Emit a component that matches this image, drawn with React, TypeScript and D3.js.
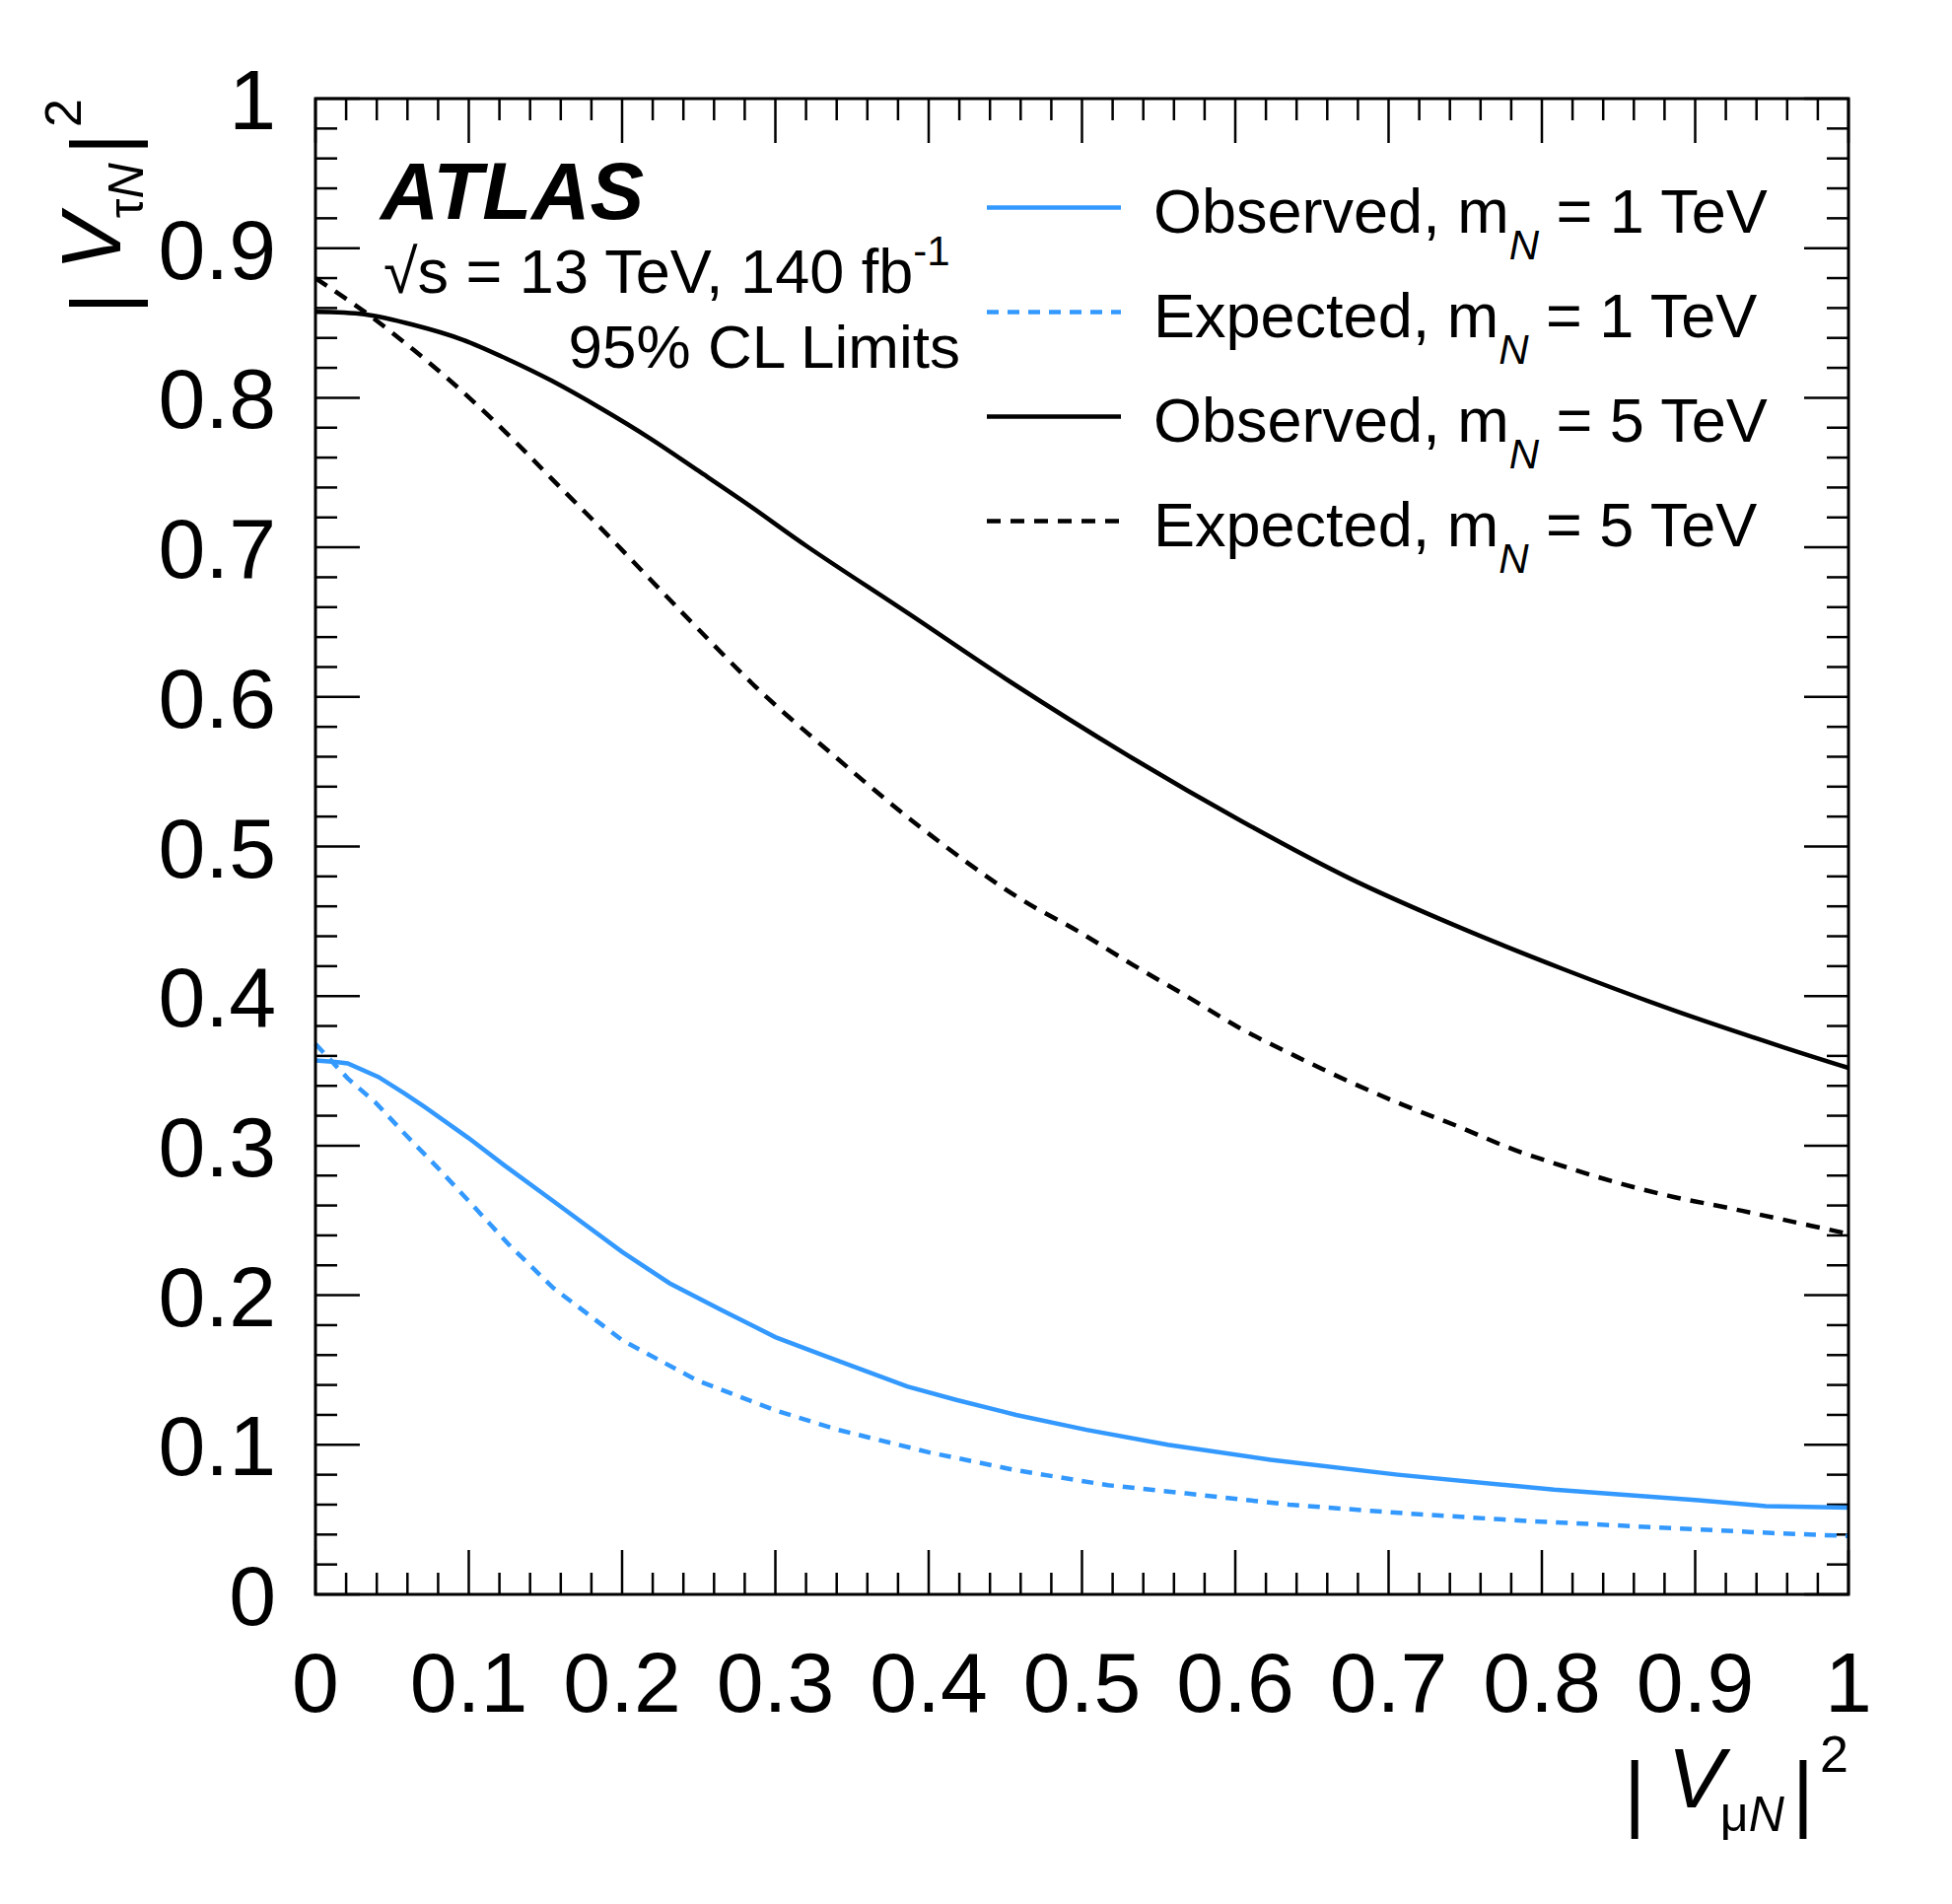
import * as d3 from "d3";
import { useEffect } from "react";

// |V_muN|^2 grid points and |V_tauN|^2 limits
const obs1X = [0, 0.013, 0.021, 0.041, 0.058, 0.071, 0.1, 0.123, 0.155, 0.2, 0.231, 0.265, 0.3, 0.331, 0.357, 0.386, 0.418, 0.457, 0.503, 0.556, 0.623, 0.706, 0.808, 0.902, 0.946, 1.0];
const obs1Y = [0.357, 0.356, 0.355, 0.346, 0.335, 0.326, 0.305, 0.287, 0.263, 0.229, 0.208, 0.19, 0.172, 0.16, 0.15, 0.139, 0.13, 0.12, 0.11, 0.1, 0.09, 0.08, 0.07, 0.063, 0.059, 0.058];

const exp1X = [0, 0.021, 0.039, 0.06, 0.079, 0.1, 0.126, 0.155, 0.2, 0.249, 0.3, 0.341, 0.4, 0.457, 0.517, 0.568, 0.635, 0.713, 0.792, 0.871, 0.95, 1.0];
const exp1Y = [0.368, 0.345, 0.329, 0.306, 0.286, 0.263, 0.234, 0.205, 0.17, 0.143, 0.123, 0.11, 0.095, 0.083, 0.073, 0.0675, 0.06, 0.054, 0.049, 0.045, 0.041, 0.039];

const obs5X = [0, 0.032, 0.064, 0.096, 0.128, 0.154, 0.186, 0.218, 0.25, 0.283, 0.321, 0.387, 0.454, 0.533, 0.604, 0.674, 0.745, 0.815, 0.886, 0.957, 1.0];
const obs5Y = [0.8575, 0.8558, 0.8487, 0.8388, 0.8245, 0.8114, 0.793, 0.773, 0.751, 0.728, 0.7004, 0.6556, 0.6096, 0.559, 0.517, 0.479, 0.4465, 0.4176, 0.3905, 0.366, 0.352];

const exp5X = [0, 0.032, 0.064, 0.096, 0.128, 0.154, 0.186, 0.218, 0.25, 0.291, 0.339, 0.387, 0.435, 0.463, 0.498, 0.533, 0.569, 0.604, 0.639, 0.674, 0.71, 0.745, 0.78, 0.816, 0.851, 0.886, 0.921, 0.957, 1.0];
const exp5Y = [0.88, 0.8575, 0.832, 0.804, 0.773, 0.746, 0.713, 0.679, 0.645, 0.603, 0.56, 0.519, 0.482, 0.463, 0.443, 0.421, 0.3995, 0.378, 0.36, 0.343, 0.327, 0.313, 0.298, 0.2856, 0.2747, 0.2657, 0.2585, 0.2506, 0.241];

const xTicks = [0, 0.1, 0.2, 0.3, 0.4, 0.5, 0.6, 0.7, 0.8, 0.9, 1];
const xTickLabels = ["0", "0.1", "0.2", "0.3", "0.4", "0.5", "0.6", "0.7", "0.8", "0.9", "1"];
const yTicks = [0, 0.1, 0.2, 0.3, 0.4, 0.5, 0.6, 0.7, 0.8, 0.9, 1];
const yTickLabels = ["0", "0.1", "0.2", "0.3", "0.4", "0.5", "0.6", "0.7", "0.8", "0.9", "1"];

const legendNames = ["Observed", "Expected", "Observed", "Expected"];
const legendMasses = ["1", "1", "5", "5"];

const BLUE = "#3399ff";
const FONT = "'Liberation Sans', Arial, Helvetica, sans-serif";

const W = 1980;
const H = 1931;
const left = 320, right = 1875, top = 100, bottom = 1617;

const App = () => {
    useEffect(() => {
        document.body.style.margin = "0";
    }, []);

    const x = d3.scaleLinear().domain([0, 1]).range([left, right]);
    const y = d3.scaleLinear().domain([0, 1]).range([bottom, top]);

    const line = (xs: number[], ys: number[], curve: d3.CurveFactory) =>
        d3.line<number>()
            .x((_, i) => x(xs[i]))
            .y((_, i) => y(ys[i]))
            .curve(curve)(ys) || "";

    const series = [
        { d: line(obs1X, obs1Y, d3.curveLinear), color: BLUE, dash: null },
        { d: line(exp1X, exp1Y, d3.curveLinear), color: BLUE, dash: "12 9" },
        { d: line(obs5X, obs5Y, d3.curveCatmullRom), color: "#000", dash: null },
        { d: line(exp5X, exp5Y, d3.curveCatmullRom), color: "#000", dash: "14 10" },
    ];

    const minorX = x.ticks(50);
    const minorY = y.ticks(50);
    const major = 45, minor = 22;

    return (
        <svg width={W} height={H} style={{ display: "block", background: "#fff" }} fontFamily={FONT}>
            {/* ticks on all four sides, pointing inward */}
            <g stroke="#000" strokeWidth={2.5}>
                {minorX.map((t, i) => {
                    const len = xTicks.some((m) => Math.abs(m - t) < 1e-9) ? major : minor;
                    return (
                        <g key={"xt" + i}>
                            <line x1={x(t)} x2={x(t)} y1={bottom} y2={bottom - len} />
                            <line x1={x(t)} x2={x(t)} y1={top} y2={top + len} />
                        </g>
                    );
                })}
                {minorY.map((t, i) => {
                    const len = yTicks.some((m) => Math.abs(m - t) < 1e-9) ? major : minor;
                    return (
                        <g key={"yt" + i}>
                            <line x1={left} x2={left + len} y1={y(t)} y2={y(t)} />
                            <line x1={right} x2={right - len} y1={y(t)} y2={y(t)} />
                        </g>
                    );
                })}
            </g>

            {/* curves */}
            <g fill="none" strokeWidth={4.5}>
                {series.map((s, i) => (
                    <path key={i} d={s.d} stroke={s.color} strokeDasharray={s.dash || undefined} />
                ))}
            </g>

            {/* frame */}
            <rect x={left} y={top} width={right - left} height={bottom - top} fill="none" stroke="#000" strokeWidth={3} />

            {/* tick labels */}
            <g fontSize={86} fill="#000">
                {xTicks.map((t, i) => (
                    <text key={"xl" + i} x={x(t)} y={1736} textAnchor="middle">{xTickLabels[i]}</text>
                ))}
                {yTicks.map((t, i) => (
                    <text key={"yl" + i} x={280} y={y(t) + 31} textAnchor="end">{yTickLabels[i]}</text>
                ))}
            </g>

            {/* x axis title */}
            <text x={right} y={1833} textAnchor="end" fontSize={86}>
                <tspan dy={14}>|</tspan>
                <tspan dx={22} dy={-14} fontStyle="italic">V</tspan>
                <tspan dx={-4} dy={24} fontSize={50}>μ</tspan>
                <tspan fontSize={50} fontStyle="italic">N</tspan>
                <tspan dx={8} dy={-10}>|</tspan>
                <tspan dx={6} dy={-50} fontSize={52}>2</tspan>
            </text>

            {/* y axis title */}
            <text transform={`translate(122, ${top}) rotate(-90)`} textAnchor="end" fontSize={86}>
                <tspan dy={10}>|</tspan>
                <tspan dx={22} dy={-10} fontStyle="italic">V</tspan>
                <tspan dx={-4} dy={23} fontSize={50}>τ</tspan>
                <tspan fontSize={50} fontStyle="italic">N</tspan>
                <tspan dx={8} dy={-13}>|</tspan>
                <tspan dx={6} dy={-50} fontSize={52}>2</tspan>
            </text>

            {/* ATLAS label */}
            <text x={386} y={222} fontSize={82} fontWeight="bold" fontStyle="italic">ATLAS</text>
            <text x={389} y={297} fontSize={63}>
                √s = 13 TeV, 140 fb<tspan dy={-28} fontSize={42}>-1</tspan>
            </text>
            <text x={974} y={373} fontSize={62} textAnchor="end">95% CL Limits</text>

            {/* legend */}
            {series.map((s, i) => {
                const ly = 210.5 + i * 106;
                return (
                    <g key={"lg" + i}>
                        <line x1={1001} x2={1137} y1={ly} y2={ly} stroke={s.color} strokeWidth={4.5}
                            strokeDasharray={s.dash || undefined} />
                        <text x={1170} y={ly + 25} fontSize={63}>
                            {legendNames[i]}, m
                            <tspan dy={27} fontSize={42} fontStyle="italic">N</tspan>
                            <tspan dy={-27}> = {legendMasses[i]} TeV</tspan>
                        </text>
                    </g>
                );
            })}
        </svg>
    );
};

export default App;
